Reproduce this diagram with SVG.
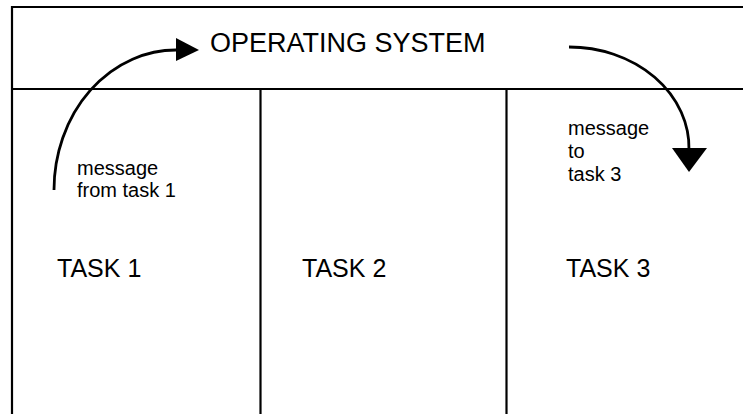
<svg xmlns="http://www.w3.org/2000/svg" width="743" height="414" viewBox="0 0 743 414">
<style>
.frame{stroke:#000;stroke-width:2.2;fill:none}
.curve{stroke:#000;stroke-width:2.8;fill:none}
.head{fill:#000}
text{font-family:"Liberation Sans",Arial,sans-serif;fill:#000}
.big{font-size:27px}
.task{font-size:25px}
.small{font-size:20px}
</style>
<rect width="743" height="414" fill="#fff"/>
<g id="operating-system">
<line class="frame" x1="12" y1="7" x2="743" y2="7"/>
<line class="frame" x1="12" y1="89" x2="743" y2="89"/>
<text class="big" x="210" y="52">OPERATING SYSTEM</text>
</g>
<g id="task1">
<line class="frame" x1="12" y1="6" x2="12" y2="414"/>
<text class="task" x="57" y="277">TASK 1</text>
<text class="small" x="77" y="175">message</text>
<text class="small" x="77" y="197">from task 1</text>
</g>
<g id="task2">
<line class="frame" x1="260.5" y1="89" x2="260.5" y2="414"/>
<text class="task" x="302" y="277">TASK 2</text>
</g>
<g id="task3">
<line class="frame" x1="506.5" y1="89" x2="506.5" y2="414"/>
<text class="task" x="566" y="277">TASK 3</text>
<text class="small" x="568" y="135">message</text>
<text class="small" x="568" y="158">to</text>
<text class="small" x="568" y="181">task 3</text>
</g>
<g id="connectors">
<path class="curve" d="M54,190 A122,140 0 0 1 178,50"/>
<polygon class="head" points="176,38 199,50 176,61"/>
<path class="curve" d="M569,47 A120,101 0 0 1 689,150"/>
<polygon class="head" points="672,148 707,148 689,172"/>
</g>
</svg>
